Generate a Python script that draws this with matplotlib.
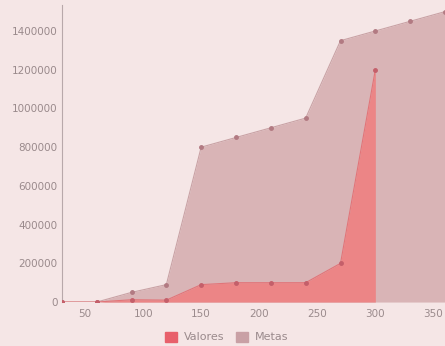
import matplotlib.pyplot as plt
from matplotlib.patches import Patch
from matplotlib.ticker import FuncFormatter

dias = [30, 60, 90, 120, 150, 180, 210, 240, 270, 300, 330, 360]
metas = [0, 0, 50000, 90000, 800000, 850000, 900000, 950000, 1350000, 1400000, 1450000, 1500000]
valores = [0, 0, 12000, 10000, 90000, 100000, 100000, 100000, 200000, 1200000]

bg = '#f5e6e6'
fig = plt.figure(figsize=(4.45, 3.46), dpi=100, facecolor=bg)
ax = fig.add_axes([0.139, 0.127, 0.861, 0.859], facecolor=bg)

# metas behind, valores on top
ax.fill_between(dias, metas, 0, color='#d9b4b6', lw=0, zorder=1)
ax.plot(dias, metas, color='#c9a2a5', lw=0.8, marker='o', ms=2.5,
        mfc='#b27a82', mec='#b27a82', zorder=2)
ax.fill_between(dias[:len(valores)], valores, 0, color='#ec8586', lw=0, zorder=3)
ax.plot(dias[:len(valores)], valores, color='#e27478', lw=0.8, marker='o', ms=2.5,
        mfc='#c45f6a', mec='#c45f6a', zorder=4)

ax.set_xlim(30, 360)
ax.set_ylim(0, 1535000)
ax.set_xticks([50, 100, 150, 200, 250, 300, 350])
ax.set_yticks(range(0, 1400001, 200000))
ax.yaxis.set_major_formatter(FuncFormatter(lambda v, p: f'{int(v)}'))
ax.tick_params(colors='#9a8a8c', labelsize=7.5, length=0, pad=3)
ax.tick_params(axis='x', pad=5)
for s in ['top', 'right', 'bottom']:
    ax.spines[s].set_visible(False)
ax.spines['left'].set_color('#b8a8aa')
ax.spines['left'].set_linewidth(0.8)

handles = [Patch(color='#e8606b', label='Valores'), Patch(color='#c9a0a5', label='Metas')]
fig.legend(handles=handles, loc='center', bbox_to_anchor=(0.509, 0.026), ncol=2,
           frameon=False, fontsize=8, handlelength=1.1, handleheight=1.0,
           columnspacing=1.0, handletextpad=0.6, labelcolor='#9a8a8c',
           borderpad=0)

fig.savefig('out.png', dpi=100, facecolor=bg)
